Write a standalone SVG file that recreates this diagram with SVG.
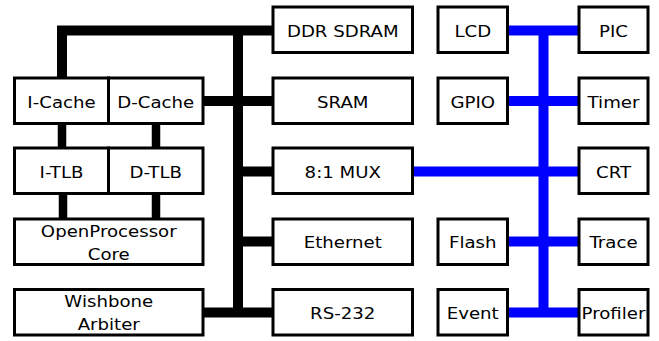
<svg xmlns="http://www.w3.org/2000/svg" width="659" height="341" viewBox="0 0 659 341">
  <style>
    .box { fill: #ffffff; stroke: #000000; stroke-width: 3; }
    .lbl { font-family: "DejaVu Sans", "Bitstream Vera Sans", sans-serif; font-size: 16.5px; fill: #000000; text-anchor: middle; }
    .wb { fill: none; stroke: #000000; stroke-width: 10; stroke-linejoin: miter; }
    .wbs { fill: none; stroke: #000000; stroke-width: 8.5; }
    .pb { fill: none; stroke: #0000ff; stroke-width: 10; }
  </style>
  <rect width="659" height="341" fill="#ffffff"/>

  <!-- bus wiring -->
  <g id="connectors">
    <!-- Wishbone (system) bus -->
    <path class="wb" d="M62,78 V30.5 H273"/>
    <path class="wb" d="M238,30.5 V312.5"/>
    <path class="wb" d="M203,101 H273"/>
    <path class="wb" d="M238,171.5 H273"/>
    <path class="wb" d="M238,241.5 H273"/>
    <path class="wb" d="M203,312.5 H273"/>
    <!-- cache / TLB / core links -->
    <path class="wbs" d="M62,123 V148"/>
    <path class="wbs" d="M156,123 V148"/>
    <path class="wbs" d="M63,193 V219"/>
    <path class="wbs" d="M156,193 V219"/>
    <!-- peripheral bus -->
    <path class="pb" d="M543.5,30.5 V312.5"/>
    <path class="pb" d="M508,30.5 H579"/>
    <path class="pb" d="M508,101 H579"/>
    <path class="pb" d="M412,171.5 H579"/>
    <path class="pb" d="M508,241.5 H579"/>
    <path class="pb" d="M508,312.5 H579"/>
  </g>

  <!-- processor side (labels set slightly wide: scale(1.1,1)) -->
  <g id="icache"><rect class="box" x="14.5" y="78" width="94" height="45.5"/><text class="lbl" transform="translate(61.5,107.5) scale(1.1,1)">I-Cache</text></g>
  <g id="dcache"><rect class="box" x="108.5" y="78" width="94.5" height="45.5"/><text class="lbl" transform="translate(155.75,107.5) scale(1.1,1)">D-Cache</text></g>
  <g id="itlb"><rect class="box" x="14.5" y="148" width="94" height="45.5"/><text class="lbl" transform="translate(61.5,177.5) scale(1.1,1)">I-TLB</text></g>
  <g id="dtlb"><rect class="box" x="108.5" y="148" width="94.5" height="45.5"/><text class="lbl" transform="translate(155.75,177.5) scale(1.1,1)">D-TLB</text></g>
  <g id="core"><rect class="box" x="14.5" y="219" width="188.5" height="45.5"/><text class="lbl" transform="translate(108.75,236.7) scale(1.1,1)">OpenProcessor</text><text class="lbl" transform="translate(108.75,260) scale(1.1,1)">Core</text></g>
  <g id="arbiter"><rect class="box" x="14.5" y="289.5" width="188.5" height="45.5"/><text class="lbl" transform="translate(108.75,306.8) scale(1.1,1)">Wishbone</text><text class="lbl" transform="translate(108.75,329.8) scale(1.1,1)">Arbiter</text></g>

  <!-- memory and system devices -->
  <g id="ddr"><rect class="box" x="273" y="7" width="139.5" height="45.5"/><text class="lbl" transform="translate(342.75,36.6) scale(1.1,1)">DDR SDRAM</text></g>
  <g id="sram"><rect class="box" x="273" y="78" width="139.5" height="45.5"/><text class="lbl" transform="translate(342.75,107.5) scale(1.1,1)">SRAM</text></g>
  <g id="mux"><rect class="box" x="273" y="148" width="139.5" height="45.5"/><text class="lbl" transform="translate(342.75,177.5) scale(1.1,1)">8:1 MUX</text></g>
  <g id="ethernet"><rect class="box" x="273" y="219" width="139.5" height="45.5"/><text class="lbl" transform="translate(342.75,248.2) scale(1.1,1)">Ethernet</text></g>
  <g id="rs232"><rect class="box" x="273" y="289.5" width="139.5" height="45.5"/><text class="lbl" transform="translate(342.75,318.7) scale(1.1,1)">RS-232</text></g>

  <!-- peripherals, left column -->
  <g id="lcd"><rect class="box" x="438" y="7" width="69.5" height="45.5"/><text class="lbl" transform="translate(472.75,36.6) scale(1.1,1)">LCD</text></g>
  <g id="gpio"><rect class="box" x="438" y="78" width="69.5" height="45.5"/><text class="lbl" transform="translate(472.75,107.5) scale(1.1,1)">GPIO</text></g>
  <g id="flash"><rect class="box" x="438" y="219" width="69.5" height="45.5"/><text class="lbl" transform="translate(472.75,248.2) scale(1.1,1)">Flash</text></g>
  <g id="event"><rect class="box" x="438" y="289.5" width="69.5" height="45.5"/><text class="lbl" transform="translate(472.75,318.7) scale(1.1,1)">Event</text></g>

  <!-- peripherals, right column -->
  <g id="pic"><rect class="box" x="579" y="7" width="69" height="45.5"/><text class="lbl" transform="translate(613.5,36.6) scale(1.1,1)">PIC</text></g>
  <g id="timer"><rect class="box" x="579" y="78" width="69" height="45.5"/><text class="lbl" transform="translate(613.5,107.5) scale(1.1,1)">Timer</text></g>
  <g id="crt"><rect class="box" x="579" y="148" width="69" height="45.5"/><text class="lbl" transform="translate(613.5,177.5) scale(1.1,1)">CRT</text></g>
  <g id="trace"><rect class="box" x="579" y="219" width="69" height="45.5"/><text class="lbl" transform="translate(613.5,248.2) scale(1.1,1)">Trace</text></g>
  <g id="profiler"><rect class="box" x="579" y="289.5" width="69" height="45.5"/><text class="lbl" transform="translate(613.5,318.7) scale(1.1,1)">Profiler</text></g>
</svg>
